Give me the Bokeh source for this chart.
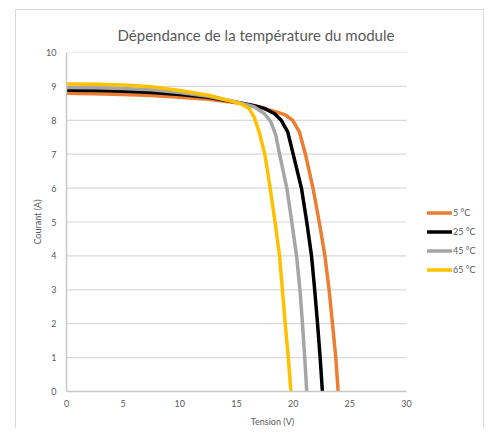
from bokeh.plotting import figure
from bokeh.models import Range1d, Legend, LegendItem, FixedTicker, Title
from bokeh.embed import file_html
from bokeh.resources import INLINE

title_text = "Dépendance de la température du module"
x_label = "Tension (V)"
y_label = "Courant (A)"
x_ticks = [0, 5, 10, 15, 20, 25, 30]
y_ticks = list(range(0, 11))

series_names = ["5 °C", "25 °C", "45 °C", "65 °C"]
series_colors = ["#ED7D31", "#000000", "#A5A5A5", "#FFC000"]

v_5 = [0, 2.5, 5, 7.5, 10, 12.5, 15, 17, 17.73, 18.6, 19.35, 19.96, 20.55, 21.08, 21.75, 22.3, 22.8, 23.17, 23.47, 23.76, 23.97]
i_5 = [8.80, 8.78, 8.76, 8.73, 8.68, 8.62, 8.52, 8.40, 8.32, 8.24, 8.15, 8.0, 7.66, 7.0, 6.0, 5.0, 4.0, 3.0, 2.0, 1.0, 0.0]

v_25 = [0, 2.5, 5, 7.5, 10, 12.5, 15, 16.5, 17.45, 18.34, 18.95, 19.52, 20.0, 20.73, 21.2, 21.62, 21.9, 22.15, 22.38, 22.58]
i_25 = [8.89, 8.88, 8.86, 8.82, 8.76, 8.68, 8.53, 8.44, 8.35, 8.2, 8.0, 7.66, 7.0, 6.0, 5.0, 4.0, 3.0, 2.0, 1.0, 0.0]

v_45 = [0, 2.5, 5, 7.5, 10, 12.5, 15, 16.55, 17.45, 18.02, 18.46, 18.8, 19.44, 19.88, 20.3, 20.6, 20.82, 21.02, 21.2]
i_45 = [8.97, 8.96, 8.94, 8.90, 8.82, 8.71, 8.54, 8.40, 8.2, 7.96, 7.57, 7.0, 6.0, 5.0, 4.0, 3.0, 2.0, 1.0, 0.0]

v_65 = [0, 2.5, 5, 7.5, 10, 12.5, 14.5, 15.4, 16.1, 16.55, 17.0, 17.5, 17.97, 18.4, 18.8, 19.05, 19.3, 19.57, 19.8]
i_65 = [9.07, 9.06, 9.04, 8.99, 8.88, 8.74, 8.57, 8.48, 8.35, 8.1, 7.66, 7.0, 6.0, 5.0, 4.0, 3.0, 2.0, 1.0, 0.0]

series_v = [v_5, v_25, v_45, v_65]
series_i = [i_5, i_25, i_45, i_65]

X_MIN, X_MAX = 0, 30
Y_MIN, Y_MAX = 0, 10
FONT = "Lato"
TXT = "#595959"
BORDER = "1px solid #d9d9d9"

# frame extends to the right so the legend (inside the frame) is not clipped;
# x range end keeps the same scale as a 0..30 axis of 340 px
FRAME_W = 412
PLOT_W = 340
x_end = X_MAX * FRAME_W / PLOT_W

p = figure(width=469, height=419, output_backend="svg", toolbar_location=None,
           x_range=Range1d(X_MIN, x_end), y_range=Range1d(Y_MIN, Y_MAX),
           min_border_left=50, min_border_right=7, min_border_top=42, min_border_bottom=37,
           styles={"margin-left": "15px", "margin-top": "9px",
                   "border-left": BORDER, "border-top": BORDER, "border-right": BORDER})
p.outline_line_color = None
p.background_fill_color = "white"
p.border_fill_color = "white"

p.xaxis.ticker = FixedTicker(ticks=x_ticks)
p.yaxis.ticker = FixedTicker(ticks=y_ticks)
p.xaxis.bounds = (X_MIN, X_MAX)
for ax in (p.xaxis[0], p.yaxis[0]):
    ax.major_tick_line_color = None
    ax.minor_tick_line_color = None
    ax.axis_line_color = "#c8c8c8"
    ax.axis_line_width = 1.5
    ax.major_label_text_font = FONT
    ax.major_label_text_font_size = "9px"
    ax.major_label_text_color = TXT
    ax.axis_label_text_font = FONT
    ax.axis_label_text_font_size = "9px"
    ax.axis_label_text_color = TXT
    ax.axis_label_text_font_style = "normal"
p.xaxis.axis_label = x_label
p.yaxis.axis_label = y_label
p.xaxis.major_tick_out = 0
p.xaxis.major_tick_in = 0
p.xaxis.major_label_standoff = 8
p.xaxis.axis_label_standoff = 6
p.yaxis.major_label_standoff = 4
p.yaxis.axis_label_standoff = 0

p.xgrid.grid_line_color = None
p.ygrid.grid_line_color = None
gy = [t for t in y_ticks if t > Y_MIN]
p.segment(x0=[X_MIN] * len(gy), y0=gy, x1=[X_MAX] * len(gy), y1=gy,
          line_color="#d9d9d9", line_width=1.2)

items = []
for name, col, vs, cs in zip(series_names, series_colors, series_v, series_i):
    r = p.line(vs, cs, line_color=col, line_width=3.5, line_join="round", line_cap="round")
    items.append(LegendItem(label=name, renderers=[r]))

legend = Legend(items=items, location=(361, 112), orientation="vertical",
                glyph_width=25, glyph_height=19, label_height=19, label_standoff=1,
                spacing=0, padding=0, margin=0, border_line_color=None,
                background_fill_alpha=0, label_text_font=FONT,
                label_text_font_size="9px", label_text_color=TXT)
p.add_layout(legend, "center")

p.title = Title(text=title_text, align="left", offset=51, standoff=17,
                text_font=FONT, text_font_size="15px", text_color=TXT,
                text_font_style="normal")

open("out.html", "w").write(file_html(p, INLINE))
